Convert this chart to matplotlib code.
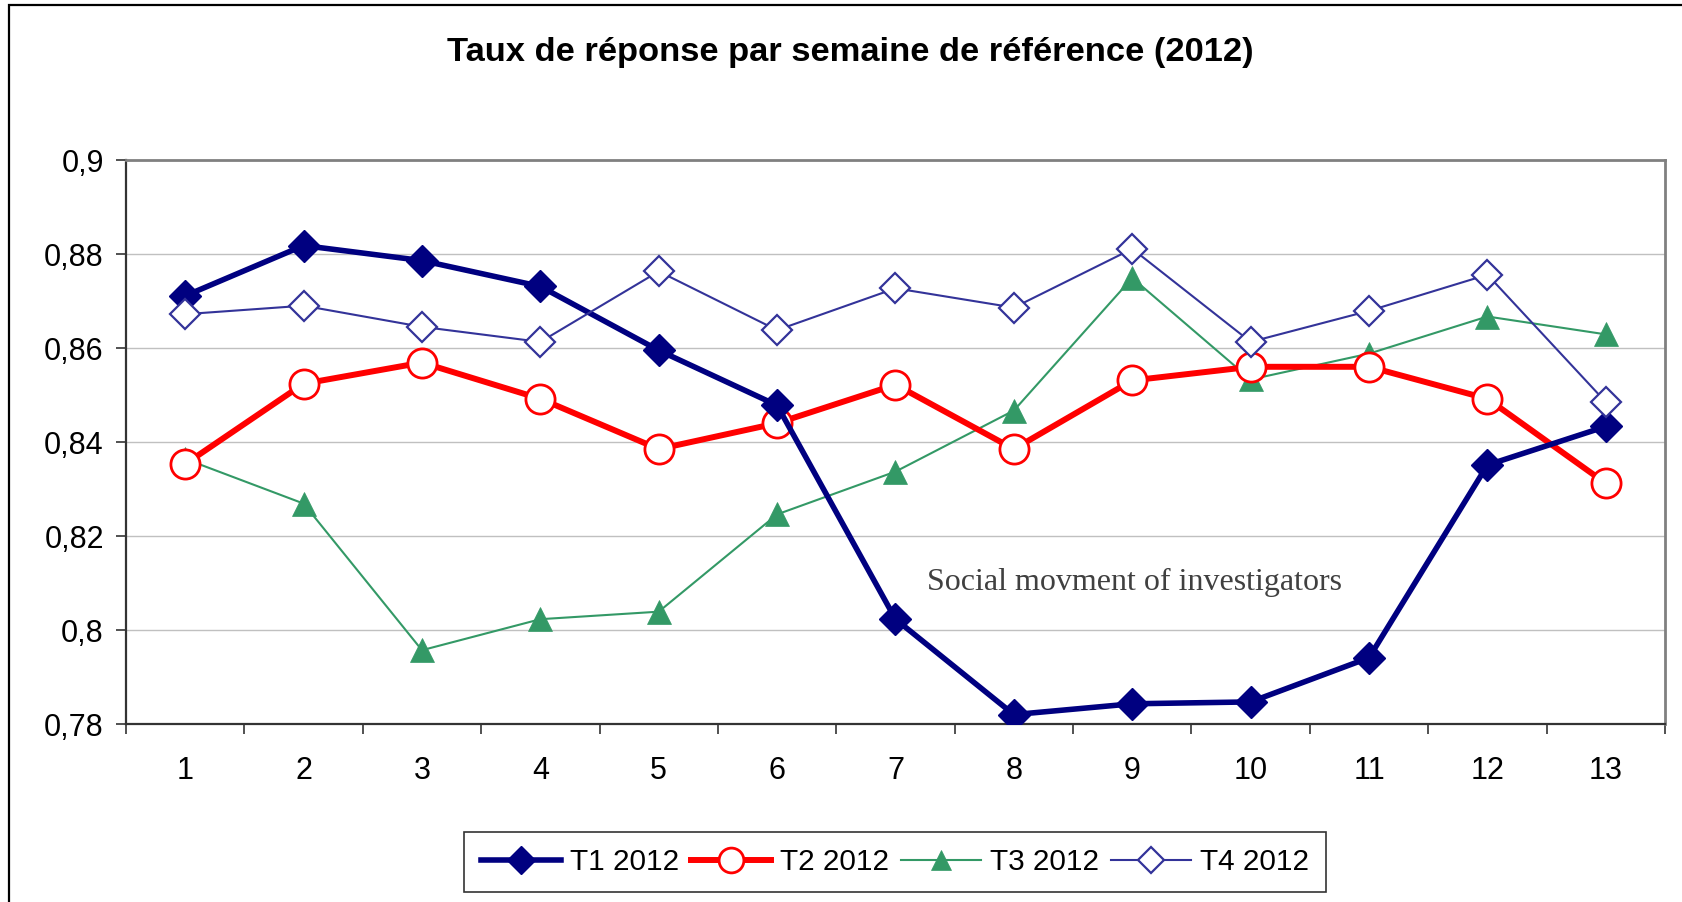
import matplotlib
matplotlib.use("Agg")
import matplotlib.pyplot as plt
from matplotlib.patches import Rectangle
from matplotlib.ticker import FixedLocator, FuncFormatter

# weeks of reference
weeks = list(range(1, 14))
week_labels = [str(w) for w in weeks]

# response rates per quarter
t1 = [0.8711, 0.8818, 0.8786, 0.8731, 0.8595, 0.8478, 0.8023, 0.7820, 0.7843, 0.7847, 0.7941, 0.8351, 0.8433]
t2 = [0.8353, 0.8524, 0.8569, 0.8492, 0.8385, 0.8440, 0.8522, 0.8385, 0.8531, 0.8560, 0.8560, 0.8492, 0.8312]
t3 = [0.8364, 0.8269, 0.7957, 0.8023, 0.8039, 0.8246, 0.8337, 0.8467, 0.8749, 0.8533, 0.8588, 0.8667, 0.8629]
t4 = [0.8672, 0.8690, 0.8645, 0.8613, 0.8763, 0.8638, 0.8727, 0.8686, 0.8811, 0.8613, 0.8679, 0.8756, 0.8485]

y_ticks = [0.78, 0.80, 0.82, 0.84, 0.86, 0.88, 0.90]

plt.rcParams['font.family'] = ['Liberation Sans', 'DejaVu Sans']

fig = plt.figure(figsize=(16.83, 9.02), dpi=100)
ax = fig.add_axes([126 / 1683, 1 - 724 / 902, (1665 - 126) / 1683, (724 - 160) / 902])

# outer chart frame (left and top edges visible)
fig.patches.append(Rectangle((9 / 1683, -0.1), 1.2, 1 - 4.5 / 902 + 0.1, transform=fig.transFigure,
                             fill=False, edgecolor='black', linewidth=1.6, zorder=0))

ax.set_xlim(0.5, 13.5)
ax.set_ylim(0.78, 0.90)

for y in y_ticks[1:-1]:
    ax.axhline(y, color='#c0c0c0', linewidth=1.0, zorder=0)

ax.plot(weeks, t1, color='#000080', linewidth=4.0, marker='D', markersize=16.5,
        markerfacecolor='#000080', markeredgecolor='#000080', label='T1 2012', zorder=5)
ax.plot(weeks, t2, color='#ff0000', linewidth=4.3, marker='o', markersize=21,
        markerfacecolor='white', markeredgecolor='#ff0000', markeredgewidth=2.0, label='T2 2012', zorder=4)
ax.plot(weeks, t3, color='#339966', linewidth=1.5, marker='^', markersize=17,
        markerfacecolor='#339966', markeredgecolor='#339966', markeredgewidth=0.5, label='T3 2012', zorder=3)
ax.plot(weeks, t4, color='#333399', linewidth=1.5, marker='D', markersize=15.5,
        markerfacecolor='white', markeredgecolor='#333399', markeredgewidth=1.6, label='T4 2012', zorder=6)

ax.text(7.27, 0.8102, 'Social movment of investigators', family=['Liberation Serif', 'DejaVu Serif'],
        fontsize=23, color='#404040', ha='left', va='center')

# axes look
for side in ['top', 'right']:
    ax.spines[side].set_color('#808080')
    ax.spines[side].set_linewidth(2.0)
for side in ['left', 'bottom']:
    ax.spines[side].set_color('#333333')
    ax.spines[side].set_linewidth(1.6)

ax.set_yticks(y_ticks)
ax.yaxis.set_major_formatter(FuncFormatter(lambda v, p: ('%g' % round(v, 2)).replace('.', ',')))
ax.tick_params(axis='y', length=7, width=1.2, color='#333333', labelsize=22, pad=9)

ax.set_xticks(weeks)
ax.set_xticklabels(week_labels)
ax.xaxis.set_minor_locator(FixedLocator([w + 0.5 for w in range(0, 14)]))
ax.tick_params(axis='x', which='major', length=0, labelsize=22, pad=23)
ax.tick_params(axis='x', which='minor', length=7, width=1.2, color='#333333')

fig.text(850 / 1683, 1 - 53 / 902, 'Taux de réponse par semaine de référence (2012)',
         fontsize=24.8, fontweight='bold', ha='center', va='center')

leg = fig.legend(loc='center', bbox_to_anchor=(895 / 1683, 1 - 862 / 902), ncol=4, fontsize=21.4,
                 frameon=True, fancybox=False, edgecolor='black', handlelength=2.7, handletextpad=0.3,
                 columnspacing=0.4, markerscale=0.85, borderpad=0.55)
leg.get_frame().set_linewidth(1.2)

fig.savefig('out.png', dpi=100)
